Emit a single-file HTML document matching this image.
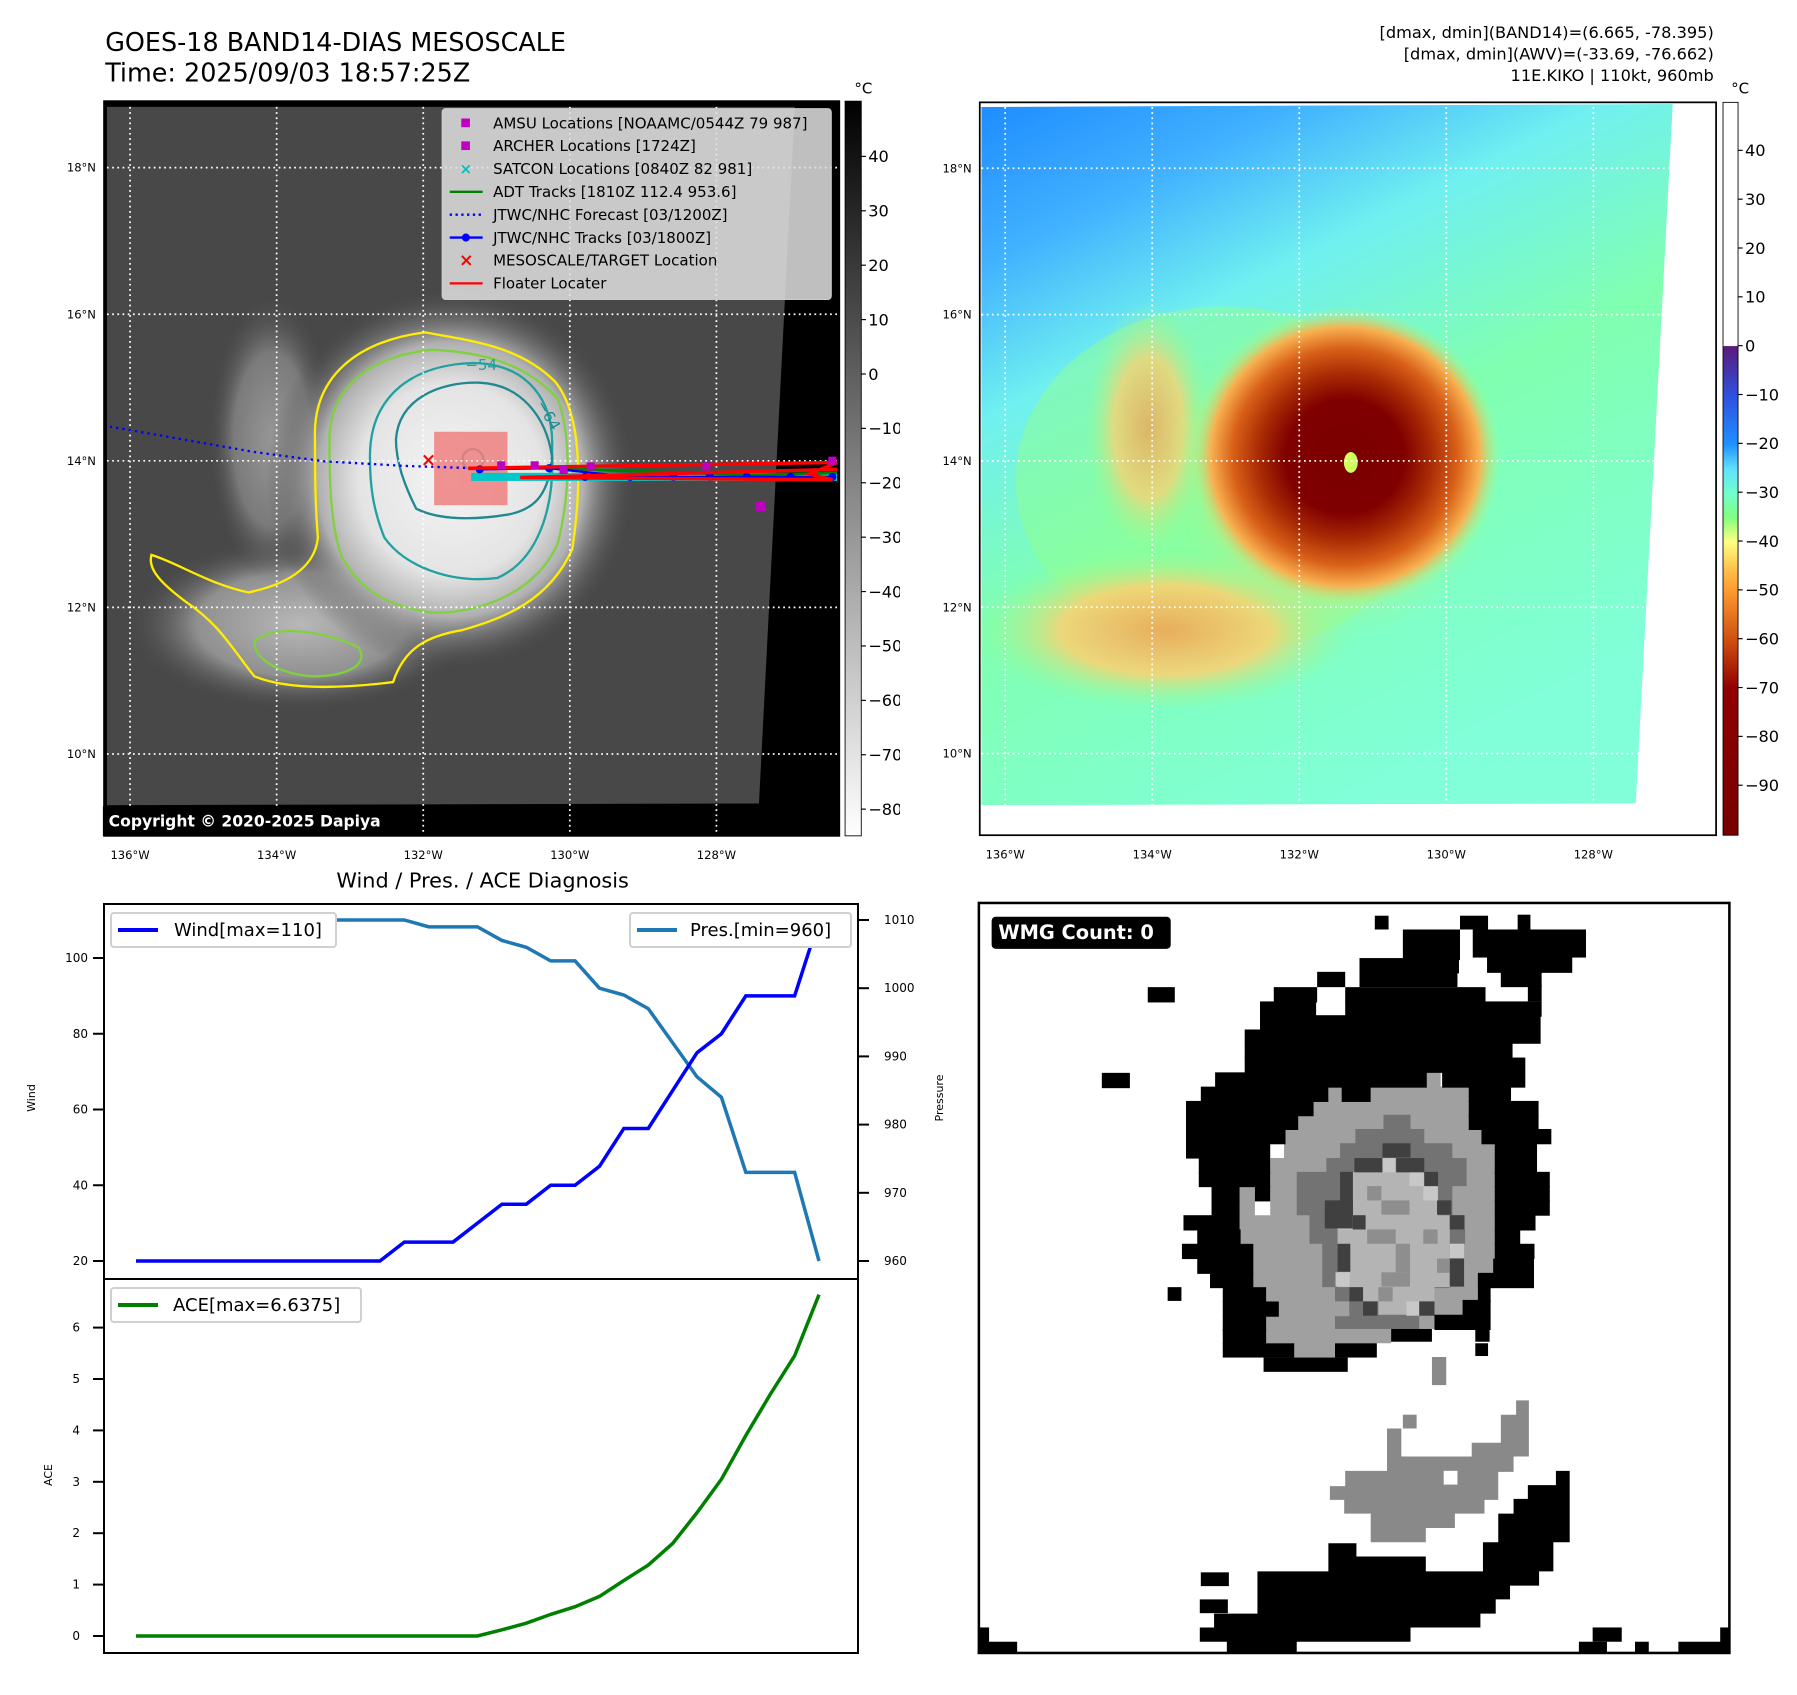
<!DOCTYPE html>
<html><head><meta charset="utf-8"><style>
html,body{margin:0;padding:0;background:#fff;}
svg text{font-family:"DejaVu Sans","Liberation Sans",sans-serif;}
</style></head><body>
<svg id="root" xmlns="http://www.w3.org/2000/svg" width="1797" height="1690" viewBox="0 0 1797 1690">
<rect width="1797" height="1690" fill="#fff"/>
<defs>
<radialGradient id="stormGray" cx="0.5" cy="0.5" r="0.5">
<stop offset="0" stop-color="#f4f4f4"/><stop offset="0.5" stop-color="#e4e4e4"/><stop offset="0.72" stop-color="#b0b0b0"/><stop offset="1" stop-color="#4a4a4a" stop-opacity="0"/>
</radialGradient>
<radialGradient id="bandGray" cx="0.5" cy="0.5" r="0.5">
<stop offset="0" stop-color="#b8b8b8"/><stop offset="0.6" stop-color="#909090"/><stop offset="1" stop-color="#4a4a4a" stop-opacity="0"/>
</radialGradient>
<linearGradient id="bgRight" x1="0" y1="0" x2="0.5" y2="1">
<stop offset="0" stop-color="#1e8cff"/><stop offset="0.18" stop-color="#40b0ff"/><stop offset="0.36" stop-color="#70f0f0"/><stop offset="0.6" stop-color="#80ffb0"/><stop offset="1" stop-color="#80ffd8"/>
</linearGradient>
<radialGradient id="stormColor" cx="0.5" cy="0.5" r="0.5">
<stop offset="0" stop-color="#7a0000"/><stop offset="0.38" stop-color="#800000"/><stop offset="0.55" stop-color="#a82a04"/><stop offset="0.72" stop-color="#d86018"/><stop offset="0.86" stop-color="#f8b050"/><stop offset="1" stop-color="#a0ff90" stop-opacity="0"/>
</radialGradient>
<radialGradient id="bandColor" cx="0.5" cy="0.5" r="0.5">
<stop offset="0" stop-color="#f8a050"/><stop offset="0.55" stop-color="#ffd070"/><stop offset="1" stop-color="#90ff90" stop-opacity="0"/>
</radialGradient>
<linearGradient id="cbGray" x1="0" y1="1" x2="0" y2="0">
<stop offset="0" stop-color="#fff"/><stop offset="1" stop-color="#000"/>
</linearGradient>
<linearGradient id="cbColor" x1="0" y1="0" x2="0" y2="1">
<stop offset="0" stop-color="#fff"/><stop offset="0.332" stop-color="#fff"/>
<stop offset="0.333" stop-color="#5a1a7a"/><stop offset="0.4" stop-color="#3050e0"/>
<stop offset="0.466" stop-color="#1e90ff"/><stop offset="0.5" stop-color="#60e0ff"/>
<stop offset="0.533" stop-color="#70ffd0"/><stop offset="0.566" stop-color="#80ff80"/>
<stop offset="0.6" stop-color="#ffff80"/><stop offset="0.633" stop-color="#ffc850"/>
<stop offset="0.666" stop-color="#ff9a30"/><stop offset="0.733" stop-color="#d05010"/>
<stop offset="0.8" stop-color="#900000"/><stop offset="1" stop-color="#780000"/>
</linearGradient>
</defs>

<!-- TOP LEFT MAP -->
<svg id="tl" x="0" y="0" width="900" height="900" viewBox="0 0 1557 1557">
<text x="182" y="88" font-size="44">GOES-18 BAND14-DIAS MESOSCALE</text>
<text x="182" y="141" font-size="44">Time: 2025/09/03 18:57:25Z</text>
<rect x="180" y="175" width="1272" height="1271" fill="#000"/>
<polygon points="185,185 1375,185 1313,1390 185,1393" fill="#484848"/>
<ellipse cx="520" cy="1080" rx="300" ry="150" fill="url(#bandGray)"/>
<ellipse cx="470" cy="760" rx="110" ry="250" fill="url(#bandGray)" opacity="0.7"/>
<ellipse cx="780" cy="830" rx="320" ry="330" fill="url(#stormGray)"/>
<g fill="none" stroke-width="4">
<path d="M545,760 C540,650 620,590 735,575 C820,590 900,600 960,660 C1010,720 1005,850 990,950 C950,1040 870,1070 800,1090 C740,1100 700,1120 680,1180 C600,1190 500,1195 440,1170 C400,1120 380,1080 320,1040 C280,1010 255,985 262,960 C310,975 360,1010 430,1025 C500,1010 545,980 550,930 C545,870 545,810 545,760 Z" stroke="#ffee00"/>
<path d="M570,760 C570,670 640,615 750,605 C840,610 910,630 965,690 C990,760 985,860 965,940 C930,1020 840,1060 750,1060 C670,1050 620,1020 590,960 C570,900 570,820 570,760 Z" stroke="#80d040"/>
<path d="M440,1110 C470,1080 560,1090 620,1120 C640,1150 600,1170 540,1170 C480,1165 440,1140 440,1110 Z" stroke="#80d040"/>
<path d="M640,790 C640,680 720,630 820,628 C910,630 960,690 955,780 C960,880 930,970 860,1000 C780,1010 700,980 665,930 C645,880 640,840 640,790 Z" stroke="#20a0a0"/>
<path d="M685,760 C690,690 760,660 830,662 C900,665 945,720 955,790 C950,850 930,880 880,890 C820,900 760,900 720,880 C700,840 685,800 685,760 Z" stroke="#208890"/>
<circle cx="818" cy="795" r="18" stroke="#208890"/>
<text x="805" y="640" font-size="26" fill="#20a0a0" stroke="none">−54</text>
<text x="920" y="712" font-size="26" fill="#208890" stroke="none" transform="rotate(60 935 712)">−64</text>
</g>
<rect x="751" y="747" width="127" height="127" fill="#f08080" opacity="0.85"/>
<g id="tlGrid"></g>
<polyline points="190,738 440,782 560,798 700,806 820,810" fill="none" stroke="#0000ff" stroke-width="4" stroke-dasharray="4,7"/>
<rect x="815" y="818" width="633" height="14" fill="#00c8c8"/>
<polyline points="815,810 950,810 1100,815 1300,822 1448,818" fill="none" stroke="#008000" stroke-width="5"/>
<polyline points="830,812 950,810 1090,825 1230,825 1440,825" fill="none" stroke="#0000ff" stroke-width="4"/>
<g fill="#0000ff"><circle cx="830" cy="812" r="7"/><circle cx="950" cy="810" r="7"/><circle cx="1012" cy="825" r="7"/><circle cx="1090" cy="825" r="7"/><circle cx="1165" cy="825" r="7"/><circle cx="1228" cy="825" r="7"/><circle cx="1292" cy="825" r="7"/><circle cx="1368" cy="825" r="7"/><circle cx="1440" cy="825" r="7"/></g>
<polyline points="810,810 1448,800 1400,820 1440,830 900,826 1448,812" fill="none" stroke="#ff0000" stroke-width="6"/>
<g fill="#c000c0"><rect x="860" y="798" width="14" height="14"/><rect x="918" y="798" width="14" height="14"/><rect x="968" y="806" width="14" height="14"/><rect x="1015" y="800" width="14" height="14"/><rect x="1215" y="800" width="14" height="14"/><rect x="1308" y="868" width="16" height="16"/><rect x="1433" y="790" width="14" height="14"/></g>
<text x="728" y="806" font-size="32" fill="#ff0000" font-weight="bold">×</text>
<g>
<rect x="765" y="188" width="673" height="330" rx="6" fill="#e0e0e0" fill-opacity="0.85" stroke="#ccc" stroke-width="2"/>
<g id="tlLegend" font-size="26"></g>
</g>
<rect x="178" y="1395" width="552" height="51" fill="#000"/>
<text x="188" y="1430" font-size="27" font-weight="bold" fill="#fff">Copyright © 2020-2025 Dapiya</text>
<rect x="180" y="175" width="1272" height="1271" fill="none" stroke="#000" stroke-width="3"/>
<rect x="1462" y="175" width="28" height="1271" fill="url(#cbGray)" stroke="#000" stroke-width="1.5"/>
<text x="1478" y="162" font-size="26">°C</text>
<g id="tlCb" font-size="28"></g>
<g id="tlTicks" font-size="20"></g>
<text x="835" y="1535" font-size="36" text-anchor="middle">Wind / Pres. / ACE Diagnosis</text>
</svg>

<!-- TOP RIGHT MAP -->
<svg id="tr" x="900" y="0" width="897" height="900" viewBox="0 0 1552 1557">
<g font-size="28" text-anchor="end">
<text x="1408" y="66">[dmax, dmin](BAND14)=(6.665, -78.395)</text>
<text x="1408" y="103">[dmax, dmin](AWV)=(-33.69, -76.662)</text>
<text x="1408" y="140">11E.KIKO | 110kt, 960mb</text>
</g>
<polygon points="141,185 1337,180 1273,1390 141,1393" fill="url(#bgRight)"/>
<ellipse cx="560" cy="830" rx="360" ry="300" fill="#90ff90" opacity="0.5"/>
<ellipse cx="460" cy="1090" rx="330" ry="140" fill="url(#bandColor)" opacity="0.85"/>
<ellipse cx="430" cy="740" rx="110" ry="220" fill="url(#bandColor)" opacity="0.75"/>
<ellipse cx="750" cy="820" rx="290" ry="290" fill="url(#bandColor)" opacity="0.6"/>
<ellipse cx="770" cy="790" rx="270" ry="260" fill="url(#stormColor)"/>
<ellipse cx="780" cy="800" rx="12" ry="18" fill="#d0ff60"/>
<g id="trGrid"></g>
<rect x="138" y="177" width="1274" height="1268" fill="none" stroke="#000" stroke-width="3"/>
<rect x="1424" y="177" width="26" height="1268" fill="url(#cbColor)" stroke="#000" stroke-width="1.5"/>
<text x="1438" y="162" font-size="26">°C</text>
<g id="trCb" font-size="28"></g>
<g id="trTicks" font-size="20"></g>
</svg>

<!-- BOTTOM LEFT CHART -->
<g id="bl">
<rect x="104" y="904" width="754" height="375" fill="none" stroke="#000" stroke-width="2"/>
<rect x="104" y="1279" width="754" height="374" fill="none" stroke="#000" stroke-width="2"/>
<g id="blTicks" font-size="12"></g>
<g id="blLines"></g>
<text transform="translate(35,1098) rotate(-90)" font-size="11" text-anchor="middle">Wind</text>
<text transform="translate(943,1098) rotate(-90)" font-size="11" text-anchor="middle">Pressure</text>
<text transform="translate(52,1475) rotate(-90)" font-size="11" text-anchor="middle">ACE</text>
<g><rect x="111" y="913" width="225" height="34" rx="3" fill="#fff" stroke="#d0d0d0" stroke-width="2"/><line x1="118" y1="930" x2="158" y2="930" stroke="#0000ff" stroke-width="4"/><text x="174" y="936" font-size="18">Wind[max=110]</text></g>
<g><rect x="630" y="913" width="221" height="34" rx="3" fill="#fff" stroke="#d0d0d0" stroke-width="2"/><line x1="637" y1="930" x2="677" y2="930" stroke="#1f77b4" stroke-width="4"/><text x="690" y="936" font-size="18">Pres.[min=960]</text></g>
<g><rect x="111" y="1288" width="250" height="34" rx="3" fill="#fff" stroke="#d0d0d0" stroke-width="2"/><line x1="118" y1="1305" x2="158" y2="1305" stroke="#008000" stroke-width="4"/><text x="173" y="1311" font-size="18">ACE[max=6.6375]</text></g>
</g>

<!-- BOTTOM RIGHT WMG -->
<svg id="br" x="960" y="880" width="800" height="800" viewBox="0 0 1568 1568">
<rect x="37" y="45" width="1471" height="1470" fill="#fff"/>
<polygon fill="#a0a0a0" points="722,405 748,405 748,433 805,433 805,405 915,405 915,377 942,377 942,405 997,405 997,488 1022,488 1022,516 1048,516 1048,800 1015,800 1015,826 985,826 985,852 930,852 930,880 845,880 845,908 735,908 735,936 650,936 650,908 598,908 598,855 625,855 625,826 598,826 598,798 575,798 575,713 548,713 548,600 578,600 578,657 608,657 608,545 635,545 635,488 663,488 663,460 690,460 690,433 722,433"/>
<polygon fill="#737373" points="830,460 883,460 883,488 910,488 910,516 965,516 965,545 993,545 993,600 965,600 965,657 990,657 990,713 960,713 960,800 930,800 930,826 900,826 900,880 735,880 735,855 763,855 763,826 735,826 735,798 710,798 710,713 685,713 685,657 660,657 660,572 718,572 718,545 745,545 745,516 775,516 775,488 830,488"/>
<polygon fill="#b4b4b4" points="770,572 910,572 910,600 937,600 937,657 960,657 960,798 930,798 930,826 900,826 900,852 820,852 820,826 763,826 763,798 740,798 740,657 770,657"/>
<g fill="#8e8e8e"><rect x="798" y="600" width="28" height="28"/><rect x="826" y="628" width="55" height="28"/><rect x="798" y="685" width="56" height="28"/><rect x="854" y="713" width="28" height="56"/><rect x="826" y="769" width="56" height="28"/><rect x="908" y="685" width="28" height="28"/><rect x="935" y="742" width="25" height="28"/><rect x="820" y="798" width="28" height="28"/></g>
<g fill="#c8c8c8"><rect x="826" y="545" width="28" height="28"/><rect x="881" y="572" width="28" height="28"/><rect x="908" y="600" width="28" height="28"/><rect x="740" y="657" width="28" height="28"/><rect x="960" y="713" width="28" height="28"/><rect x="736" y="769" width="28" height="28"/><rect x="875" y="826" width="28" height="28"/></g>
<g id="brDark" fill="#404040"></g>
<g id="brBlack" fill="#000"></g>
<polygon fill="#898989" points="1090,1020 1115,1020 1115,1130 1085,1130 1085,1160 1055,1160 1055,1215 1028,1215 1028,1242 970,1242 970,1270 913,1270 913,1298 805,1298 805,1242 753,1242 753,1215 725,1215 725,1188 755,1188 755,1158 837,1158 837,1075 865,1075 865,1130 1003,1130 1003,1103 1060,1103 1060,1048 1090,1048"/>
<rect x="948" y="1158" width="27" height="27" fill="#fff"/>
<rect x="868" y="1048" width="27" height="27" fill="#898989"/>
<rect x="925" y="935" width="28" height="55" fill="#898989"/>
<polygon fill="#000" points="1168,1158 1195,1158 1195,1298 1163,1298 1163,1355 1135,1355 1135,1383 1078,1383 1078,1410 1050,1410 1050,1438 1020,1438 1020,1465 883,1465 883,1493 660,1493 660,1515 523,1515 523,1493 470,1493 470,1465 498,1465 498,1438 583,1438 583,1355 722,1355 722,1300 777,1300 777,1326 913,1326 913,1355 1025,1355 1025,1298 1055,1298 1055,1242 1085,1242 1085,1213 1113,1213 1113,1186 1168,1186"/>
<rect x="37" y="45" width="1471" height="1470" fill="none" stroke="#000" stroke-width="5"/>
<rect x="62" y="72" width="351" height="63" rx="8" fill="#000"/>
<text x="75" y="116" font-size="38" font-weight="bold" fill="#fff">WMG Count: 0</text>
</svg>
</svg>

<script>
// ---- Diagnosis chart data ----
const windValues = [20,20,20,20,20,20,20,20,20,20,20,25,25,25,30,35,35,40,40,45,55,55,65,75,80,90,90,90,110];
const presValues = [1010,1010,1010,1010,1010,1010,1010,1010,1010,1010,1010,1010,1009,1009,1009,1007,1006,1004,1004,1000,999,997,992,987,984,973,973,973,960];
const aceValues = [0,0,0,0,0,0,0,0,0,0,0,0,0,0,0,0.12,0.25,0.42,0.57,0.77,1.08,1.38,1.8,2.4,3.05,3.9,4.7,5.45,6.64];
const windTicks = [20,40,60,80,100];
const presTicks = [960,970,980,990,1000,1010];
const aceTicks = [0,1,2,3,4,5,6];
// ---- Map tick data ----
const latTicks = [18,16,14,12,10];
const lonTicks = [136,134,132,130,128];
const grayCbTicks = [40,30,20,10,0,-10,-20,-30,-40,-50,-60,-70,-80];
const colorCbTicks = [40,30,20,10,0,-10,-20,-30,-40,-50,-60,-70,-80,-90];
const legendLabels = ["AMSU Locations [NOAAMC/0544Z 79 987]","ARCHER Locations [1724Z]","SATCON Locations [0840Z 82 981]","ADT Tracks [1810Z 112.4 953.6]","JTWC/NHC Forecast [03/1200Z]","JTWC/NHC Tracks [03/1800Z]","MESOSCALE/TARGET Location","Floater Locater"];

const NS = "http://www.w3.org/2000/svg";
function mk(tag, attrs, parent){const e=document.createElementNS(NS,tag);for(const k in attrs)e.setAttribute(k,attrs[k]);parent.appendChild(e);return e;}

const xIdx = i => 136 + i*(819-136)/28;
const yWind = v => 1261 - (v-20)*(1261-958)/80;
const yPres = p => 1261 - (p-960)*(1261-920)/50;
const yAce = a => 1636 - a*51.4;

const blT = document.getElementById('blTicks');
windTicks.forEach(v=>{const y=yWind(v);
 const l=mk('line',{x1:93,x2:104,y1:y,y2:y,stroke:'#000','stroke-width':2},blT);
 
 
 const t=mk('text',{x:88,y:y+4,'text-anchor':'end'},blT);t.textContent=v;
 
 });
presTicks.forEach(v=>{const y=yPres(v);
 mk('line',{x1:858,x2:869,y1:y,y2:y,stroke:'#000','stroke-width':2},blT);
 const t=mk('text',{x:884,y:y+4},blT);t.textContent=v;
 
 });
aceTicks.forEach(v=>{const y=yAce(v);
 mk('line',{x1:93,x2:104,y1:y,y2:y,stroke:'#000','stroke-width':2},blT);
 const t=mk('text',{x:80,y:y+4,'text-anchor':'end'},blT);t.textContent=v;
 
 });

const blL = document.getElementById('blLines');
function series(vals, yf, color, name){
 const p=mk('polyline',{points:vals.map((v,i)=>xIdx(i)+','+yf(v)).join(' '),fill:'none',stroke:color,'stroke-width':3.5},blL);
 
 
}
series(presValues,yPres,'#1f77b4','pressure-line');
series(windValues,yWind,'#0000ff','wind-line');
series(aceValues,yAce,'#008000','ace-line');

function mapAxes(gridId,tickId,lonX,latY,x0,x1,y0,y1,labelRight){
 const g=document.getElementById(gridId), t=document.getElementById(tickId);
 lonTicks.forEach(v=>{const x=lonX(v);
  mk('line',{x1:x,x2:x,y1:y0,y2:y1,stroke:'#fff','stroke-width':3,'stroke-dasharray':'3,6'},g);
  const tx=mk('text',{x:x,y:y1+40,'text-anchor':'middle'},t);tx.textContent=v+'°W';
  
  });
 latTicks.forEach(v=>{const y=latY(v);
  mk('line',{x1:x0,x2:x1,y1:y,y2:y,stroke:'#fff','stroke-width':3,'stroke-dasharray':'3,6'},g);
  const tx=mk('text',{x:labelRight,y:y+7,'text-anchor':'end'},t);tx.textContent=v+'°N';
  
  });
}
mapAxes('tlGrid','tlTicks',v=>225+(136-v)*126.8,v=>290+(18-v)*126.8,185,1448,185,1446,166);
mapAxes('trGrid','trTicks',v=>182+(136-v)*127.2,v=>291+(18-v)*126.6,141,1330,185,1445,124);

function cb(id,vals,yf,x){const g=document.getElementById(id);
 vals.forEach(v=>{const y=yf(v);
  mk('line',{x1:x,x2:x+8,y1:y,y2:y,stroke:'#000','stroke-width':2},g);
  const t=mk('text',{x:x+12,y:y+10},g);t.textContent=(v<0?'−'+(-v):v);
  
  });}
cb('tlCb',grayCbTicks,v=>647-v*9.41,1490);
cb('trCb',colorCbTicks,v=>598-v*8.45,1450);

const lg=document.getElementById('tlLegend');
legendLabels.forEach((s,i)=>{const y=213+i*39.6;
 const t=mk('text',{x:853,y:y+9},lg);t.textContent=s;
 
 
 if(i<2) mk('rect',{x:798,y:y-8,width:15,height:15,fill:'#c000c0'},lg);
 else if(i==2){const m=mk('text',{x:795,y:y+9,fill:'#00c0c0','font-weight':'bold'},lg);m.textContent='×';}
 else if(i==3) mk('line',{x1:778,x2:835,y1:y,y2:y,stroke:'#008000','stroke-width':4},lg);
 else if(i==4) mk('line',{x1:778,x2:835,y1:y,y2:y,stroke:'#0000ff','stroke-width':4,'stroke-dasharray':'4,6'},lg);
 else if(i==5){mk('line',{x1:778,x2:835,y1:y,y2:y,stroke:'#0000ff','stroke-width':4},lg);mk('circle',{cx:806,cy:y,r:7,fill:'#0000ff'},lg);}
 else if(i==6){const m=mk('text',{x:794,y:y+10,fill:'#ff0000','font-weight':'bold','font-size':30},lg);m.textContent='×';}
 else mk('line',{x1:778,x2:835,y1:y,y2:y,stroke:'#ff0000','stroke-width':4},lg);
});

const darkRects=[[828,516,55,28],[773,545,55,28],[855,545,55,28],[745,572,25,85],[910,572,27,28],[715,628,55,55],[935,628,28,28],[960,657,28,28],[770,657,25,28],[740,713,25,55],[960,742,28,55],[763,798,27,28],[790,826,28,28],[900,826,30,28]];
const blackRects=[[868,97,112,60],[1005,97,222,55],[1033,150,167,32],[1060,180,80,30],[1113,205,27,33],[783,153,195,30],[615,210,85,30],[700,180,55,30],[783,180,192,30],[755,210,275,30],[588,238,110,30],[755,238,385,30],[588,265,550,30],[558,293,580,28],[558,320,525,30],[558,348,550,30],[500,377,415,30],[945,377,163,30],[472,405,250,30],[748,405,57,30],[997,405,83,30],[443,433,250,30],[997,433,137,30],[443,460,220,30],[997,460,137,30],[443,488,195,30],[1022,488,137,30],[443,516,165,30],[1048,516,83,30],[468,545,140,30],[1048,545,83,30],[468,572,140,30],[1048,572,108,30],[493,600,55,30],[578,600,30,30],[1048,600,108,30],[493,628,55,30],[1048,628,108,30],[438,657,110,30],[1048,657,80,30],[465,685,85,30],[1048,685,50,30],[435,713,140,30],[1048,713,78,30],[465,742,110,30],[1045,742,80,30],[490,770,85,30],[1015,770,110,30],[515,798,85,30],[1015,798,25,30],[515,826,110,30],[985,823,55,30],[515,855,85,30],[930,852,110,30],[515,880,85,30],[845,880,80,25],[1010,880,28,25],[515,908,140,28],[735,908,82,28],[1010,908,25,25],[595,936,165,28],[813,70,27,27],[980,70,55,27],[1093,68,25,30],[368,210,53,30],[278,378,55,30],[407,798,27,27],[472,1357,55,27],[470,1410,55,27],[37,1465,20,50],[37,1493,75,22],[1213,1493,55,22],[1240,1465,57,28],[1323,1493,27,22],[1408,1493,100,22],[1490,1465,18,50]];
const bd=document.getElementById('brDark');
darkRects.forEach(r=>mk('rect',{x:r[0],y:r[1],width:r[2],height:r[3]},bd));
const bb=document.getElementById('brBlack');
blackRects.forEach(r=>mk('rect',{x:r[0],y:r[1],width:r[2],height:r[3]},bb));
</script>
</body></html>
